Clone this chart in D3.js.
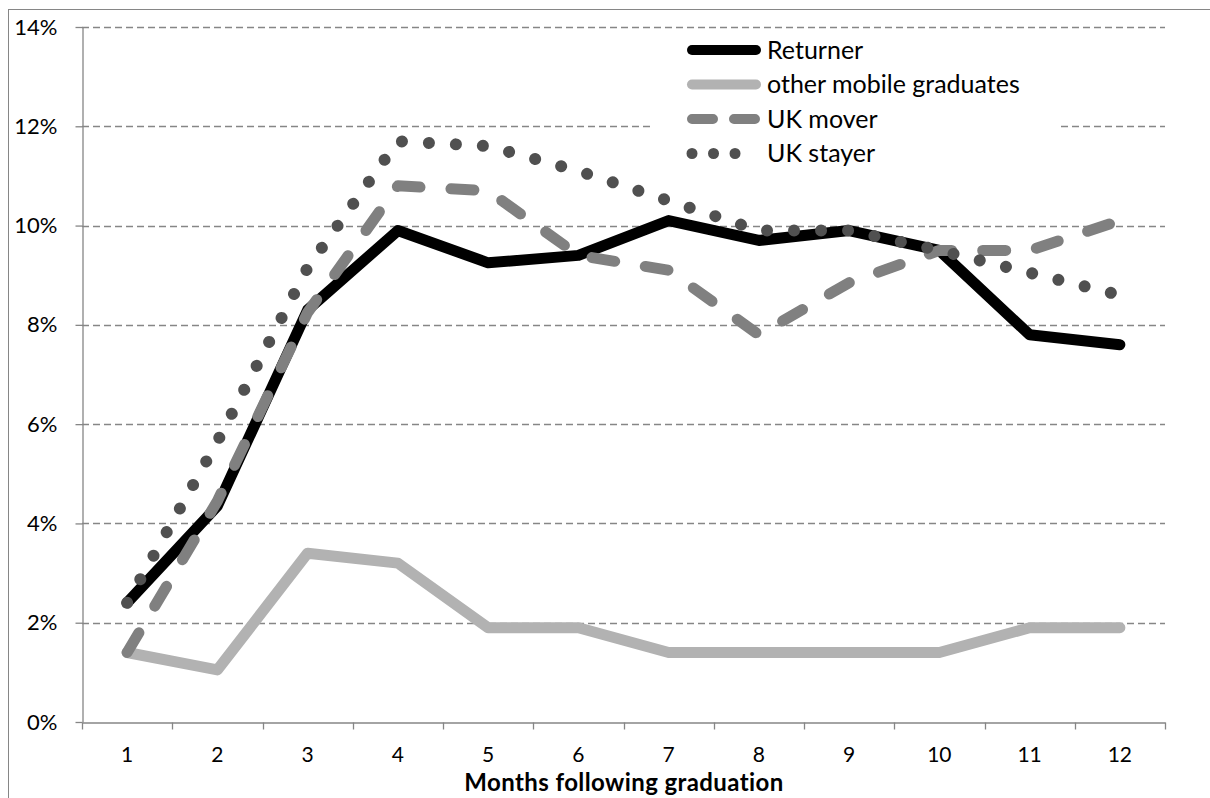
<!DOCTYPE html>
<html><head><meta charset="utf-8">
<script src="https://cdn.jsdelivr.net/npm/d3@7/dist/d3.min.js"></script>
<style>
html,body{margin:0;padding:0;background:#fff;}
svg{display:block;font-family:Lato,"Open Sans",sans-serif;}
</style></head>
<body>
<svg id="chart" width="1210" height="798"></svg>
<script>
const months = ["1","2","3","4","5","6","7","8","9","10","11","12"];
const returner = [2.4, 4.35, 8.3, 9.9, 9.25, 9.4, 10.1, 9.7, 9.9, 9.5, 7.8, 7.6];
const otherMobile = [1.4, 1.05, 3.4, 3.2, 1.9, 1.9, 1.4, 1.4, 1.4, 1.4, 1.9, 1.9];
const ukMover = [1.4, 4.45, 8.25, 10.8, 10.7, 9.4, 9.1, 7.8, 8.85, 9.5, 9.5, 10.1];
const ukStayer = [2.4, 5.65, 9.15, 11.7, 11.6, 11.1, 10.5, 9.9, 9.9, 9.5, 9.05, 8.6];
const yTicks = [0, 2, 4, 6, 8, 10, 12, 14];
const seriesNames = ["Returner", "other mobile graduates", "UK mover", "UK stayer"];
const xTitle = "Months following graduation";

const series = [
  {name: seriesNames[0], values: returner, color: "#000000", width: 11, dash: null, legendDash: null},
  {name: seriesNames[1], values: otherMobile, color: "#b2b2b2", width: 11, dash: null, legendDash: null},
  {name: seriesNames[2], values: ukMover, color: "#808080", width: 11, dash: "23 31", legendDash: "21 21"},
  {name: seriesNames[3], values: ukStayer, color: "#505050", width: 12, dash: "0.01 27", legendDash: "0.01 21.5"}
];

const svg = d3.select("#chart");
const axisColor = "#868686";
const pLeft = 82, pRight = 1165, pTop = 27, pBottom = 722;

// outer frame
svg.append("rect").attr("x", 8.5).attr("y", 9.5).attr("width", 1220).attr("height", 820)
  .attr("fill", "none").attr("stroke", axisColor).attr("stroke-width", 1);

const x = d3.scaleBand().domain(months).range([pLeft, pRight]).padding(0);
const y = d3.scaleLinear().domain([0, 14]).range([pBottom, pTop]);
const cx = d => x(d) + x.bandwidth() / 2;

// gridlines
svg.append("g").selectAll("line").data(yTicks.filter(d => d > 0)).join("line")
  .attr("x1", pLeft).attr("x2", pRight)
  .attr("y1", d => Math.round(y(d)) + 0.5).attr("y2", d => Math.round(y(d)) + 0.5)
  .attr("stroke", axisColor).attr("stroke-width", 1.3).attr("stroke-dasharray", "7 4");

// y axis
const yAxis = svg.append("g").attr("transform", `translate(${pLeft + 0.5},0)`)
  .call(d3.axisLeft(y).tickValues(yTicks).tickFormat(d => d + "%").tickSize(7).tickSizeOuter(0).tickPadding(18));
yAxis.select(".domain").attr("stroke", axisColor).attr("stroke-width", 1.3);
yAxis.selectAll(".tick line").attr("stroke", axisColor).attr("stroke-width", 1.3);
yAxis.selectAll(".tick text").attr("font-size", 22).attr("fill", "#000").attr("font-family", "Lato");

// x axis
const xAxis = svg.append("g").attr("transform", `translate(0,${pBottom + 0.5})`)
  .call(d3.axisBottom(x).tickSize(0).tickSizeOuter(0).tickPadding(0));
xAxis.select(".domain").attr("stroke", axisColor).attr("stroke-width", 1.3);
xAxis.selectAll(".tick text").attr("font-size", 21).attr("fill", "#000").attr("font-family", "Lato")
  .attr("y", 39.5).attr("dy", null);
const bounds = months.map(m => x(m)).concat([pRight]);
xAxis.append("g").selectAll("line").data(bounds).join("line")
  .attr("x1", d => Math.round(d) + 0.5).attr("x2", d => Math.round(d) + 0.5)
  .attr("y1", 0).attr("y2", 7).attr("stroke", axisColor).attr("stroke-width", 1.3);

svg.append("text").attr("x", 624).attr("y", 791)
  .attr("text-anchor", "middle").attr("font-size", 24).attr("font-weight", "bold")
  .attr("letter-spacing", 0.4)
  .attr("font-family", "Lato").text(xTitle);

// legend background
const lg = svg.append("g");
lg.append("rect").attr("x", 650).attr("y", 33).attr("width", 408).attr("height", 138).attr("fill", "#fff");

// lines
const line = d3.line().x((d, i) => cx(months[i])).y(d => y(d));
svg.append("g").selectAll("path").data(series).join("path")
  .attr("d", s => line(s.values))
  .attr("fill", "none")
  .attr("stroke", s => s.color)
  .attr("stroke-width", s => s.width)
  .attr("stroke-linecap", "round")
  .attr("stroke-linejoin", "round")
  .attr("stroke-dasharray", s => s.dash);

// legend items
const rowY = [50, 84.5, 119, 153.5];
const items = lg.selectAll("g.item").data(series).join("g").attr("class", "item")
  .attr("transform", (s, i) => `translate(0,${rowY[i]})`);
items.append("line")
  .attr("x1", 692).attr("x2", 756)
  .attr("y1", 0).attr("y2", 0)
  .attr("stroke", s => s.color)
  .attr("stroke-width", s => s.width - 1)
  .attr("stroke-linecap", "round")
  .attr("stroke-dasharray", s => s.legendDash);
items.append("text").attr("x", 767).attr("y", 0).attr("dy", "0.35em")
  .attr("font-size", 25).attr("font-family", "Lato").attr("fill", "#000")
  .text(s => s.name);
</script>
</body></html>
